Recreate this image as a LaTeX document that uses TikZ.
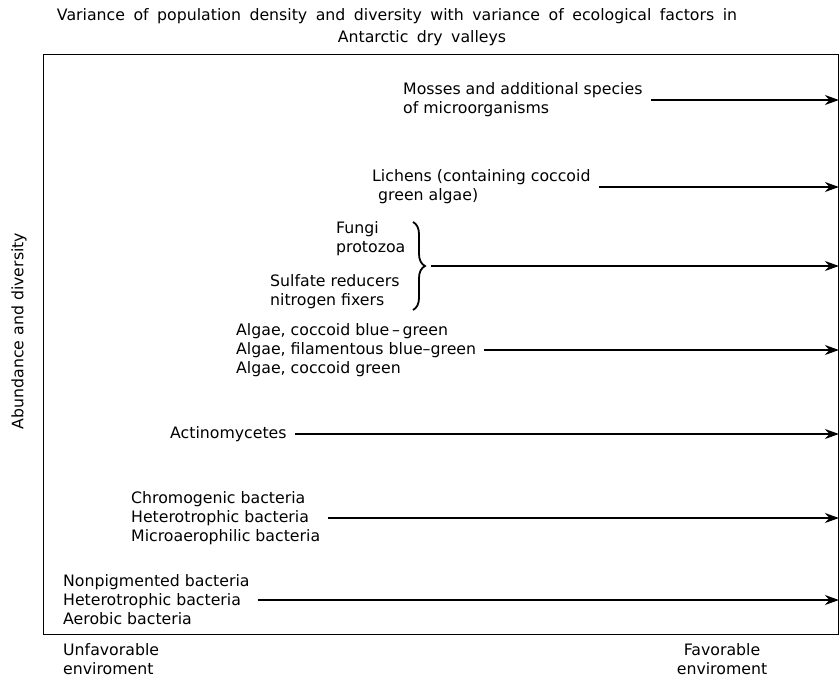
\documentclass[tikz,border=0pt]{standalone}
\usepackage{fontspec}
\setmainfont{DejaVu Sans}
\usetikzlibrary{arrows.meta,decorations.pathreplacing}
\newcommand\mytitlefont{\fontsize{15.75}{22}\selectfont\spaceskip=8.5pt plus 1pt\relax}
\begin{document}
\begin{tikzpicture}[x=1pt,y=-1pt,
  lbl/.style={anchor=west,inner sep=0pt,align=left,font=\fontsize{15.75}{19}\selectfont},
  flow/.style={line width=1.9pt,-{Stealth[length=14pt,width=10pt]},shorten <=8pt},
  frm/.style={draw,line width=1.4pt,minimum width=795pt,minimum height=580pt,inner sep=0pt,anchor=north west}]
\useasboundingbox (0,0) rectangle (840,680);
\node[font=\mytitlefont,inner sep=0pt] (title1) at (397,16)
  {Variance of population density and diversity with variance of ecological factors in};
\node[font=\mytitlefont,inner sep=0pt] (title2) at (422,38) {Antarctic dry valleys};
\node[frm] (frame) at (42.5,54) {};
\node[rotate=90,font=\fontsize{15.75}{19}\selectfont,inner sep=0pt] (yl) at (19,331) {Abundance and diversity};
\node[lbl] (mosses) at (403,100) {Mosses and additional species\\of microorganisms};
\node[lbl] (lichens) at (372,187) {Lichens (containing coccoid\\\hspace{6pt}green algae)};
\node[lbl] (fungi) at (336,239) {Fungi\\protozoa};
\node[lbl] (sulf) at (270,292) {Sulfate reducers\\nitrogen fixers};
\node[lbl] (algae) at (236,350) {Algae, coccoid blue\,--\,green\\Algae, filamentous blue--green\\Algae, coccoid green};
\node[lbl] (actino) at (170,434) {Actinomycetes};
\node[lbl] (chromo) at (131,518) {Chromogenic bacteria\\Heterotrophic bacteria\\Microaerophilic bacteria};
\node[lbl] (nonpig) at (63,600) {Nonpigmented bacteria\\Heterotrophic bacteria\\Aerobic bacteria};
\node[lbl] (unfav) at (63,659) {Unfavorable\\enviroment};
\node[font=\fontsize{15.75}{19}\selectfont,align=center,inner sep=0pt] (fav) at (722,659) {Favorable\\enviroment};
\coordinate (btop) at (413,222);
\coordinate (bbot) at (413,310);
\draw[line width=1.8pt,decorate,decoration={brace,amplitude=12pt}] (btop) -- (bbot);
\coordinate (btip) at (425,266);
\draw[flow] (mosses.east) -- (mosses.east -| frame.east);
\draw[flow] (lichens.east) -- (lichens.east -| frame.east);
\draw[flow,shorten <=6pt] (btip) -- (btip -| frame.east);
\draw[flow] (algae.east) -- (algae.east -| frame.east);
\draw[flow] (actino.east) -- (actino.east -| frame.east);
\draw[flow] (chromo.east) -- (chromo.east -| frame.east);
\draw[flow] (nonpig.east) -- (nonpig.east -| frame.east);
\end{tikzpicture}
\end{document}
